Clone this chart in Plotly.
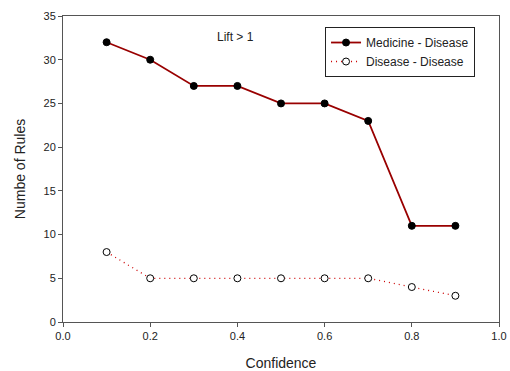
import plotly.graph_objects as go

confidence = [0.1, 0.2, 0.3, 0.4, 0.5, 0.6, 0.7, 0.8, 0.9]
medicine_disease = [32, 30, 27, 27, 25, 25, 23, 11, 11]
disease_disease = [8, 5, 5, 5, 5, 5, 5, 4, 3]

FONT = "Arial, Liberation Sans"

fig = go.Figure()
fig.add_trace(go.Scatter(
    x=confidence, y=medicine_disease, mode="lines+markers",
    name="Medicine - Disease",
    line=dict(color="#990000", width=1.8),
    marker=dict(symbol="circle", size=7, color="black", line=dict(color="black", width=1)),
))
fig.add_trace(go.Scatter(
    x=confidence, y=disease_disease, mode="lines+markers",
    name="Disease - Disease",
    line=dict(color="#cc0000", width=1.3, dash="1px,4px"),
    marker=dict(symbol="circle", size=7, color="white", line=dict(color="black", width=1)),
))

axis_common = dict(
    showgrid=False, zeroline=False, showline=True, linecolor="#555555", linewidth=1,
    mirror=True, ticks="outside", ticklen=4, tickcolor="#555555", automargin=False,
    tickfont=dict(family=FONT, size=11, color="#222222"),
)
fig.update_xaxes(range=[0, 1.0], tickvals=[0, 0.2, 0.4, 0.6, 0.8, 1.0],
                 ticktext=["0.0", "0.2", "0.4", "0.6", "0.8", "1.0"],
                 title=dict(text="Confidence", font=dict(family=FONT, size=14, color="#222222"), standoff=18),
                 **axis_common)
fig.update_yaxes(range=[0, 35], tickvals=[0, 5, 10, 15, 20, 25, 30, 35],
                 title=dict(text="Numbe of Rules", font=dict(family=FONT, size=14, color="#222222"), standoff=14),
                 **axis_common)

fig.add_annotation(text="Lift > 1", x=0.396, y=32.6, xref="x", yref="y", showarrow=False,
                   font=dict(family=FONT, size=12, color="#222222"))

fig.update_layout(
    width=510, height=371,
    margin=dict(l=63, r=11, t=16, b=49, autoexpand=False),
    paper_bgcolor="white", plot_bgcolor="white",
    legend=dict(x=0.601, y=0.964, xanchor="left", yanchor="top",
                bgcolor="white", bordercolor="#222222", borderwidth=1,
                font=dict(family=FONT, size=12, color="#222222"),
                tracegroupgap=0, itemwidth=30),
    showlegend=True,
)

fig.write_html("out.html", config={"displayModeBar": False},
               post_script="document.body.style.margin='0';document.body.style.overflow='hidden';")
